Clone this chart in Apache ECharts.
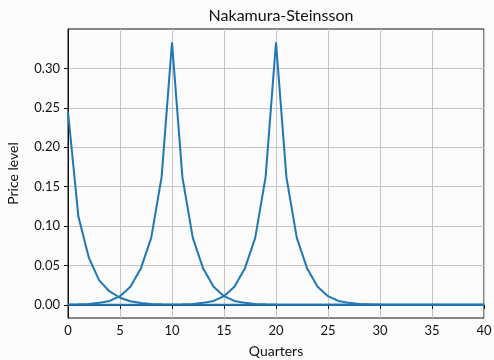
<!DOCTYPE html>
<html>
<head>
<meta charset="utf-8">
<script src="https://cdn.jsdelivr.net/npm/echarts@6/dist/echarts.min.js"></script>
<style>
	html, body { margin: 0; padding: 0; background: #fbfbfb; }
	#chart { width: 494px; height: 360px; }
</style>
</head>
<body>
<div id="chart"></div>
<script>
const quarters = [];
for (let q = 0; q <= 40; q++) quarters.push(q);

// price level response, shock at t=0
const shock0 = [0.245, 0.112, 0.060, 0.031, 0.017, 0.009, 0.0045, 0.0024, 0.0012, 0.0006,
	0.0003, 0.0002, 0.0001, 0, 0, 0, 0, 0, 0, 0,
	0, 0, 0, 0, 0, 0, 0, 0, 0, 0,
	0, 0, 0, 0, 0, 0, 0, 0, 0, 0, 0];
// shock at t=10
const shock10 = [0.0003, 0.0006, 0.0012, 0.0025, 0.005, 0.011, 0.023, 0.046, 0.085, 0.162,
	0.333, 0.162, 0.085, 0.046, 0.023, 0.011, 0.005, 0.0025, 0.0012, 0.0006,
	0.0003, 0.0002, 0.0001, 0.0001, 0, 0, 0, 0, 0, 0,
	0, 0, 0, 0, 0, 0, 0, 0, 0, 0, 0];
// shock at t=20
const shock20 = [0, 0, 0, 0, 0, 0, 0, 0, 0.0001, 0.0002,
	0.0003, 0.0006, 0.0012, 0.0025, 0.005, 0.011, 0.023, 0.046, 0.085, 0.162,
	0.333, 0.162, 0.085, 0.046, 0.023, 0.011, 0.005, 0.0025, 0.0012, 0.0006,
	0.0003, 0.0002, 0.0001, 0.0001, 0, 0, 0, 0, 0, 0, 0];

const yTicks = [0, 0.05, 0.10, 0.15, 0.20, 0.25, 0.30];

const font = "Lato";
const chart = echarts.init(document.getElementById("chart"));

const line = (data) => ({
	type: "line",
	data: quarters.map((q, i) => [q, data[i]]),
	showSymbol: false,
	lineStyle: { color: "#1f77b4", width: 2 },
	itemStyle: { color: "#1f77b4" },
	silent: true,
	animation: false,
});

chart.setOption({
	backgroundColor: "#fbfbfb",
	animation: false,
	title: {
		text: "Nakamura-Steinsson",
		left: 276,
		top: 3,
		textAlign: "center",
		textStyle: { fontFamily: font, fontSize: 16, fontWeight: "normal", color: "#111" },
	},
	grid: {
		left: 68,
		right: 10,
		top: 29,
		bottom: 42,
		outerBoundsMode: "none",
		containLabel: false,
		show: true,
		borderColor: "#111",
		borderWidth: 1,
		backgroundColor: "transparent",
	},
	xAxis: {
		type: "value",
		min: 0,
		max: 40,
		interval: 5,
		name: "Quarters",
		nameLocation: "middle",
		nameGap: 26,
		nameTextStyle: { fontFamily: font, fontSize: 14, color: "#111" },
		axisLine: { lineStyle: { color: "#111" } },
		axisTick: { length: 4, lineStyle: { color: "#111" } },
		axisLabel: { fontFamily: font, fontSize: 13, color: "#111", margin: 6 },
		splitLine: { show: true, lineStyle: { color: "#c4c4c4", width: 1 } },
	},
	yAxis: {
		type: "value",
		min: -0.0167,
		max: 0.35,
		name: "Price level",
		nameLocation: "middle",
		nameGap: 48,
		nameTextStyle: { fontFamily: font, fontSize: 14, color: "#111" },
		axisLine: { show: true, lineStyle: { color: "#111" } },
		axisTick: { show: true, length: 4, customValues: yTicks, lineStyle: { color: "#111" } },
		axisLabel: {
			fontFamily: font,
			fontSize: 13,
			color: "#111",
			margin: 8,
			customValues: yTicks,
			formatter: (v) => v.toFixed(2),
		},
		splitLine: { show: true, lineStyle: { color: "#c4c4c4", width: 1 } },
	},
	series: [line(shock0), line(shock10), line(shock20)],
});
</script>
</body>
</html>
